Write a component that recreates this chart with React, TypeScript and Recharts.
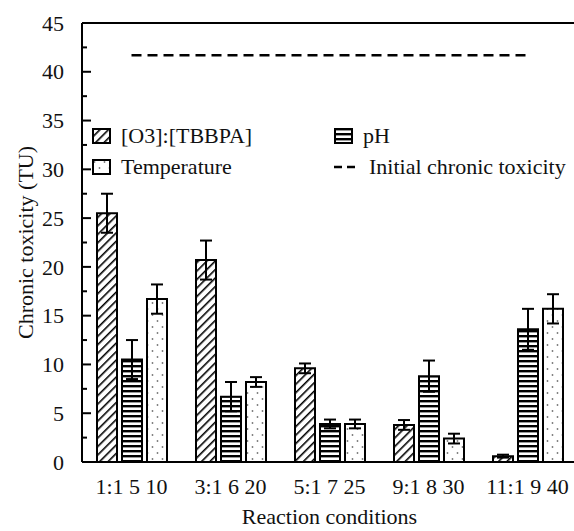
import React from "react"
import { BarChart, Bar, XAxis, YAxis, ErrorBar, ReferenceLine } from "recharts"

const categories = ["1:1 5 10", "3:1 6 20", "5:1 7 25", "9:1 8 30", "11:1 9 40"]
const o3 = [25.5, 20.7, 9.6, 3.8, 0.6]
const o3Err = [2.0, 2.0, 0.5, 0.5, 0.15]
const ph = [10.5, 6.7, 3.9, 8.8, 13.6]
const phErr = [2.0, 1.5, 0.45, 1.6, 2.1]
const temp = [16.7, 8.2, 3.9, 2.4, 15.7]
const tempErr = [1.5, 0.5, 0.45, 0.5, 1.5]
const initialToxicity = 41.7
const yTicks = [0, 2.5, 5, 7.5, 10, 12.5, 15, 17.5, 20, 22.5, 25, 27.5, 30, 32.5, 35, 37.5, 40, 42.5, 45]

const data = categories.map((name, i) => ({
  name,
  o3: o3[i],
  o3Err: o3Err[i],
  ph: ph[i],
  phErr: phErr[i],
  temp: temp[i],
  tempErr: tempErr[i],
}))

const FONT = "'Liberation Serif', 'DejaVu Serif', serif"
const FS = 22

function Patterns({ p }: { p: string }) {
  return (
    <defs>
      <pattern id={p + "hatch"} patternUnits="userSpaceOnUse" width="6" height="6" patternTransform="rotate(45)">
        <rect width="6" height="6" fill="#fff" />
        <line x1="0" y1="0" x2="0" y2="6" stroke="#000" strokeWidth="3.2" />
      </pattern>
      <pattern id={p + "hlines"} patternUnits="userSpaceOnUse" width="6" height="5">
        <rect width="6" height="5" fill="#fff" />
        <rect y="0" width="6" height="2.4" fill="#000" />
      </pattern>
      <pattern id={p + "dots"} patternUnits="userSpaceOnUse" width="10" height="12">
        <rect width="10" height="12" fill="#fff" />
        <circle cx="2.5" cy="3" r="0.9" fill="#777" />
        <circle cx="7.5" cy="9" r="0.9" fill="#777" />
      </pattern>
    </defs>
  )
}

const YTick = (props: any) => {
  const { x, y, payload } = props
  const major = payload.value % 5 === 0
  return (
    <g>
      <line x1={x} x2={x + (major ? 9 : 5)} y1={y} y2={y} stroke="#000" strokeWidth={2} />
      {major && (
        <text x={x - 18} y={y} dy="0.35em" textAnchor="end" fontFamily={FONT} fontSize={FS} fill="#111">
          {payload.value}
        </text>
      )}
    </g>
  )
}

function Swatch({ fill }: { fill: string }) {
  return (
    <svg width={19} height={16} style={{ display: "block" }}>
      <Patterns p="lg" />
      <rect x={1} y={1} width={17} height={14} fill={fill} stroke="#000" strokeWidth={2} />
    </svg>
  )
}

function LegendBox() {
  const item = (left: number, top: number, sw: React.ReactNode, label: string, gap = 10) => (
    <div style={{ position: "absolute", left, top, display: "flex", alignItems: "center", whiteSpace: "nowrap" }}>
      {sw}
      <span style={{ marginLeft: gap, fontFamily: FONT, fontSize: FS, color: "#111", lineHeight: "24px" }}>{label}</span>
    </div>
  )
  const dashes = (
    <svg width={22} height={16} style={{ display: "block" }}>
      <line x1={0} x2={8} y1={8} y2={8} stroke="#000" strokeWidth={2.5} />
      <line x1={13} x2={21} y1={8} y2={8} stroke="#000" strokeWidth={2.5} />
    </svg>
  )
  return (
    <div style={{ position: "relative", width: 480, height: 62 }}>
      {item(0, 0, <Swatch fill="url(#lghatch)" />, "[O3]:[TBBPA]")}
      {item(242, 0, <Swatch fill="url(#lghlines)" />, "pH")}
      {item(0, 31, <Swatch fill="url(#lgdots)" />, "Temperature")}
      {item(242, 31, dashes, "Initial chronic toxicity", 13)}
    </div>
  )
}

export default function App() {
  return (
    <div style={{ position: "relative", width: 574, height: 531, overflow: "hidden" }}>
      <style>{"html,body{margin:0;padding:0;overflow:hidden}"}</style>
      <BarChart
        width={577}
        height={531}
        data={data}
        margin={{ top: 23, right: 0, left: 0, bottom: 0 }}
        barSize={20}
        barGap={5}
      >
        <Patterns p="ch" />
        <XAxis
          dataKey="name"
          height={69}
          tickLine={false}
          tickSize={0}
          tickMargin={16}
          axisLine={{ stroke: "#000", strokeWidth: 2 }}
          tick={{ fill: "#111", fontSize: FS, fontFamily: FONT }}
          interval={0}
          label={{
            value: "Reaction conditions",
            position: "insideBottom",
            offset: 7,
            fill: "#111",
            fontSize: FS,
            fontFamily: FONT,
          }}
        />
        <YAxis
          width={82}
          domain={[0, 45]}
          ticks={yTicks}
          interval={0}
          tickLine={false}
          tickSize={0}
          tickMargin={0}
          tick={<YTick />}
          axisLine={{ stroke: "#000", strokeWidth: 2 }}
          label={{
            value: "Chronic toxicity (TU)",
            angle: -90,
            position: "insideLeft",
            offset: 25,
            fill: "#111",
            fontSize: FS,
            fontFamily: FONT,
            style: { textAnchor: "middle" },
          }}
        />
        <ReferenceLine y={45} stroke="#000" strokeWidth={2} />
        <ReferenceLine
          segment={[
            { x: categories[0], y: initialToxicity },
            { x: categories[categories.length - 1], y: initialToxicity },
          ]}
          stroke="#000"
          strokeWidth={2.5}
          strokeDasharray="10 6"
        />
        <Bar dataKey="o3" fill="url(#chhatch)" stroke="#000" strokeWidth={2} isAnimationActive={false}>
          <ErrorBar dataKey="o3Err" width={6} stroke="#000" strokeWidth={2} />
        </Bar>
        <Bar dataKey="ph" fill="url(#chhlines)" stroke="#000" strokeWidth={2} isAnimationActive={false}>
          <ErrorBar dataKey="phErr" width={6} stroke="#000" strokeWidth={2} />
        </Bar>
        <Bar dataKey="temp" fill="url(#chdots)" stroke="#000" strokeWidth={2} isAnimationActive={false}>
          <ErrorBar dataKey="tempErr" width={6} stroke="#000" strokeWidth={2} />
        </Bar>
      </BarChart>
      <div style={{ position: "absolute", left: 92, top: 124 }}>
        <LegendBox />
      </div>
    </div>
  )
}
